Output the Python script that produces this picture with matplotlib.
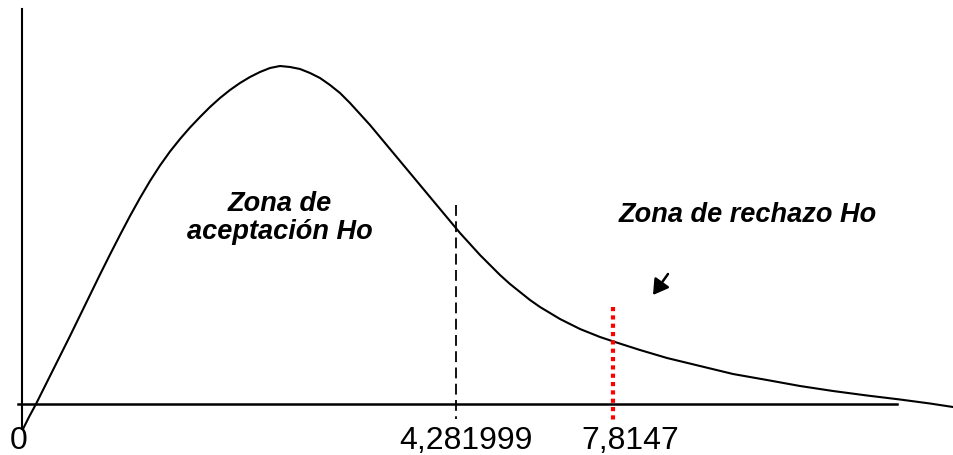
import matplotlib
matplotlib.use('Agg')
import matplotlib.pyplot as plt

# curve (pixel-like units, y grows downward)
curve_x = [23, 29, 36, 40, 50, 60, 70, 80, 90, 100, 110, 120, 130, 140, 150, 160, 170, 180, 190,
           200, 210, 220, 230, 240, 250, 260, 270, 280, 290, 300, 310, 320, 330, 340, 350, 360,
           370, 380, 390, 400, 410, 420, 430, 440, 450, 460, 470, 480, 490, 500, 510, 520, 530,
           540, 550, 560, 570, 580, 590, 600, 615, 640, 667, 700, 733, 767, 800, 833, 867, 900,
           930, 953]
curve_y = [430, 418, 405, 397, 377, 357, 337, 316.5, 296, 275.5, 255.5, 236, 217, 199, 182, 166.5, 152.5,
           140, 128.5, 118, 108, 99, 91, 84, 78, 73, 69, 67, 68, 70, 74, 79, 86, 94, 104, 115,
           126, 138, 150, 162, 174, 186, 198, 210, 222, 234, 245, 256, 266, 276, 285, 293, 301,
           308, 314, 320, 325, 330, 334, 338, 343, 351, 359, 367, 375, 381, 387, 392, 396.5, 400.5,
           404.5, 408]

crit_labels = ['0', '4,281999', '7,8147']
crit_x = [19, 466, 630]
stat_x = 456     # calculated statistic (dashed)
table_x = 613    # critical value (red dotted)

fig = plt.figure(figsize=(9.54, 4.56), dpi=100)
ax = fig.add_axes([0, 0, 1, 1])
ax.set_xlim(0, 954)
ax.set_ylim(456, 0)
ax.axis('off')

# axes
ax.plot([18, 897], [405, 405], color='black', lw=1.8)
ax.plot([22, 22], [10, 430], color='black', lw=1.5)

# curve
ax.plot(curve_x, curve_y, color='black', lw=1.5, solid_joinstyle='round')

# lines
ax.plot([stat_x, stat_x], [206, 420], color='black', lw=1.3, linestyle=(0, (6, 3)))
ax.plot([table_x, table_x], [308, 422], color='red', lw=3.0, linestyle=(0, (1, 1)))

# arrow
ax.annotate('', xy=(653, 296), xytext=(668, 275),
            arrowprops=dict(arrowstyle='-|>,head_length=0.5,head_width=0.3',
                            color='black', lw=1.8, mutation_scale=18,
                            shrinkA=0, shrinkB=0))

font = ['Liberation Sans', 'DejaVu Sans']
ax.text(280, 218, 'Zona de\naceptación Ho', ha='center', va='center', fontsize=19.5,
        fontweight='bold', fontstyle='italic', family=font, linespacing=1.07)
ax.text(748, 215, 'Zona de rechazo Ho', ha='center', va='center', fontsize=19.5,
        fontweight='bold', fontstyle='italic', family=font)

for lab, xx in zip(crit_labels, crit_x):
    ax.text(xx, 441, lab, ha='center', va='center', fontsize=23, family=font)

plt.savefig('out.png', dpi=100)
